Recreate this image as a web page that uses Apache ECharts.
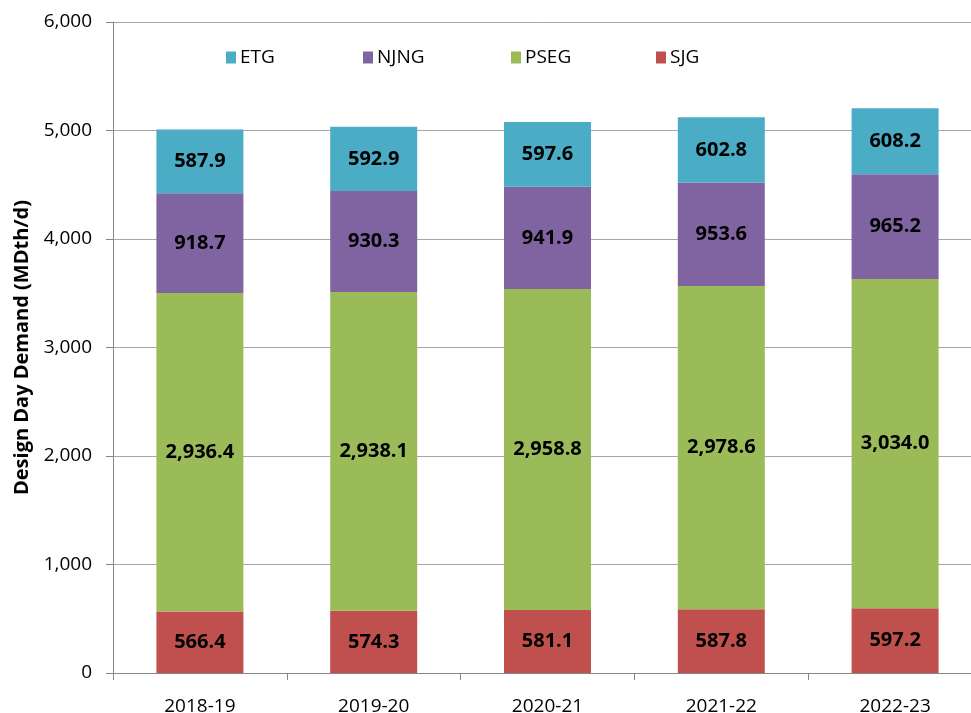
<!DOCTYPE html>
<html><head><meta charset="utf-8">
<script src="https://cdn.jsdelivr.net/npm/echarts@6/dist/echarts.min.js"></script>
<style>html,body{margin:0;padding:0;background:#fff}#c{width:971px;height:713px}</style>
</head><body><div id="c"></div>
<script>
const categories = ['2018-19','2019-20','2020-21','2021-22','2022-23'];
const SJG  = [566.4, 574.3, 581.1, 587.8, 597.2];
const PSEG = [2936.4, 2938.1, 2958.8, 2978.6, 3034.0];
const NJNG = [918.7, 930.3, 941.9, 953.6, 965.2];
const ETG  = [587.9, 592.9, 597.6, 602.8, 608.2];
const yTicks = [0, 1000, 2000, 3000, 4000, 5000, 6000];
const seriesNames = ['ETG','NJNG','PSEG','SJG'];
const colors = {ETG:'#4BACC6', NJNG:'#8064A2', PSEG:'#9BBB59', SJG:'#C0504D'};
const FONT = 'Open Sans';
const fmt = v => v.toLocaleString('en-US',{minimumFractionDigits:1,maximumFractionDigits:1});
const mk = (name, data) => ({
  name, type:'bar', stack:'t', data, barWidth:87,
  itemStyle:{color:colors[name]},
  label:{show:true, position:'inside', color:'#000', fontWeight:'bold', fontSize:20, fontFamily:FONT,
    formatter:p=>fmt(p.value)}
});
const legendLeft = [221, 358, 506, 651];
const chart = echarts.init(document.getElementById('c'));
chart.setOption({
  animation:false,
  grid:{left:113, right:-11, top:22, bottom:40, outerBoundsMode:'none', containLabel:false},
  legend: seriesNames.map((n,i)=>({
    data:[n], left:legendLeft[i], top:43, itemWidth:10, itemHeight:12, itemGap:6,
    icon:'rect', textStyle:{fontSize:19, color:'#000', fontFamily:FONT, padding:[0,0,0,-1]}
  })),
  xAxis:{type:'category', data:categories,
    axisLine:{lineStyle:{color:'#868686'}},
    axisTick:{show:true, alignWithLabel:false, length:7, lineStyle:{color:'#868686'}},
    axisLabel:{fontSize:19, color:'#000', fontFamily:FONT, margin:24}},
  yAxis:{type:'value', min:yTicks[0], max:yTicks[yTicks.length-1], interval:1000,
    name:'Design Day Demand (MDth/d)', nameLocation:'middle', nameGap:76,
    nameTextStyle:{fontSize:20, fontWeight:'bold', color:'#000', fontFamily:FONT},
    axisLine:{show:true, lineStyle:{color:'#868686'}},
    axisTick:{show:true, length:7, lineStyle:{color:'#868686'}},
    splitLine:{lineStyle:{color:'#a6a6a6'}},
    axisLabel:{fontSize:19, color:'#000', fontFamily:FONT, margin:21,
      formatter:v=>v.toLocaleString('en-US')}},
  series:[mk('SJG',SJG), mk('PSEG',PSEG), mk('NJNG',NJNG), mk('ETG',ETG)]
});
</script></body></html>
